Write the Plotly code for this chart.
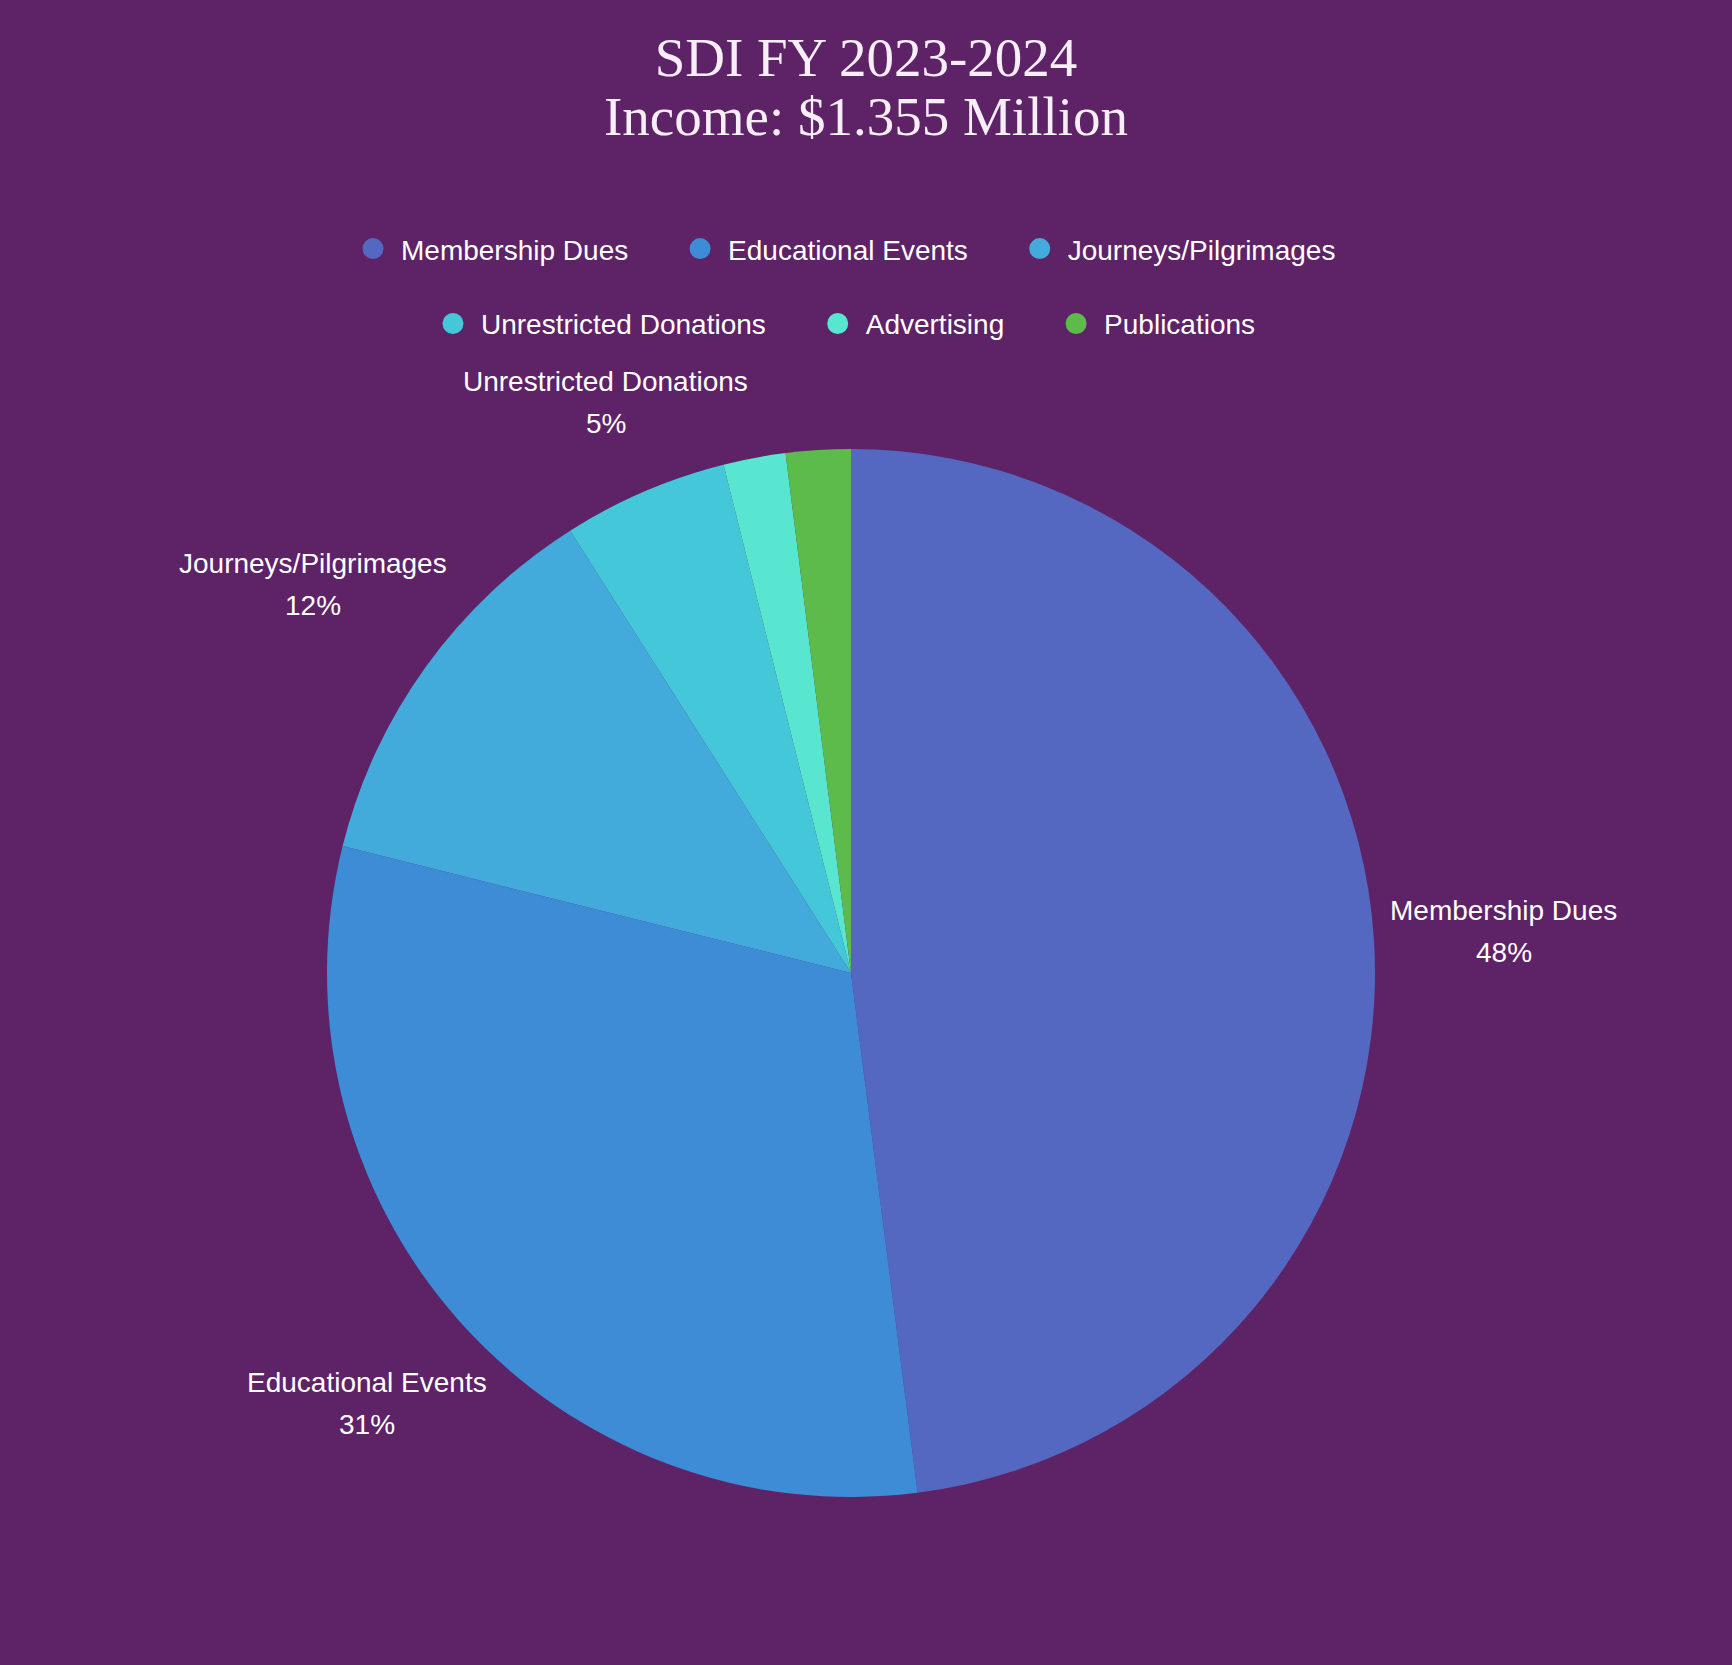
import math
import plotly.graph_objects as go

# income by source, thousands of $ (total ~ $1.355M)
categories = ["Membership Dues", "Educational Events", "Journeys/Pilgrimages",
              "Unrestricted Donations", "Advertising", "Publications"]
income_k = [650, 419, 164, 69, 26, 27]
slice_colors = ["#5468C1", "#3E8BD6", "#42ABDB", "#44C8D9", "#58E6D0", "#5DBB4B"]
show_label = [True, True, True, True, False, False]
legend_row = ["legend", "legend", "legend", "legend2", "legend2", "legend2"]

W, H = 1732, 1665
bg = "#5E2266"
font_sans = "Liberation Sans, Arial, sans-serif"
font_serif = "Liberation Serif, Times New Roman, serif"
label_size = 28

# pie geometry (px): centre and radius
cx, cy, r = 851, 973, 524

# rough Arial advance widths (em) to size the label blocks
narrow = {"i": .222, "j": .222, "l": .222, "f": .278, "t": .278, "/": .278, " ": .278,
          "r": .333, "s": .5, "c": .5, "v": .5, "y": .5, "J": .5, "m": .833, "M": .833,
          "w": .722, "D": .722, "U": .722, "E": .667, "P": .667}


def text_width(s, size):
    return sum(narrow.get(ch, .556) for ch in s) * size


fig = go.Figure()
fig.add_trace(go.Pie(
    labels=categories, values=income_k, textinfo="none",
    marker=dict(colors=slice_colors, line=dict(width=0)),
    sort=False, direction="clockwise", rotation=0,
    showlegend=False, hoverinfo="label+percent",
    domain=dict(x=[(cx - r) / W, (cx + r) / W], y=[(H - cy - r) / H, (H - cy + r) / H]),
))

# outside labels, placed along each slice's mid-angle just beyond the rim
total = sum(income_k)
cum = 0
for c, v, s in zip(categories, income_k, show_label):
    mid = (cum + v / 2) / total * 2 * math.pi
    cum += v
    if not s:
        continue
    dx, dy = math.sin(mid), -math.cos(mid)
    hw, hh = text_width(c, label_size) / 2, 28
    d = r + 15 + hw * abs(dx) + hh * abs(dy)
    px, py = cx + dx * d, cy + dy * d
    for txt, off in [(c, -21), (f"{v / total * 100:.0f}%", 21)]:
        fig.add_annotation(text=txt, x=px / W, y=1 - (py + off) / H,
                           xref="paper", yref="paper", showarrow=False,
                           xanchor="center", yanchor="middle",
                           font=dict(family=font_sans, size=label_size, color="#FFFFFF"))

# legend entries (circles), split over two centered rows
for i, (c, col, lg) in enumerate(zip(categories, slice_colors, legend_row)):
    last_in_row = i == len(categories) - 1 or legend_row[i + 1] != lg
    fig.add_trace(go.Scatter(x=[None], y=[None], mode="markers",
                             name=c if last_in_row else c + "\u00a0" * 5,
                             marker=dict(color=col, size=16, symbol="circle",
                                         line=dict(color=col, width=5)),
                             legend=lg))

legend_font = dict(family=font_sans, size=28, color="#FFFFFF")
fig.update_layout(
    width=W, height=H,
    paper_bgcolor=bg, plot_bgcolor=bg,
    margin=dict(l=0, r=0, t=0, b=0),
    xaxis=dict(visible=False), yaxis=dict(visible=False),
    title=dict(text="SDI FY 2023-2024", x=0.5, xanchor="center",
               y=1 - 57 / H, yanchor="middle",
               font=dict(family=font_serif, size=55, color="#F8EEF8")),
    legend=dict(orientation="h", x=843 / W, xanchor="center", y=0.8505, yanchor="middle",
                font=legend_font, itemwidth=46, bgcolor="rgba(0,0,0,0)"),
    legend2=dict(orientation="h", x=843 / W, xanchor="center", y=0.8055, yanchor="middle",
                 font=legend_font, itemwidth=46, bgcolor="rgba(0,0,0,0)"),
)
fig.add_annotation(text="Income: $1.355 Million", x=0.5, y=1 - 117 / H,
                   xref="paper", yref="paper", showarrow=False,
                   xanchor="center", yanchor="middle",
                   font=dict(family=font_serif, size=55, color="#F8EEF8"))

fig.write_html("out.html", config={"displayModeBar": False},
               post_script="document.body.style.margin='0';")
